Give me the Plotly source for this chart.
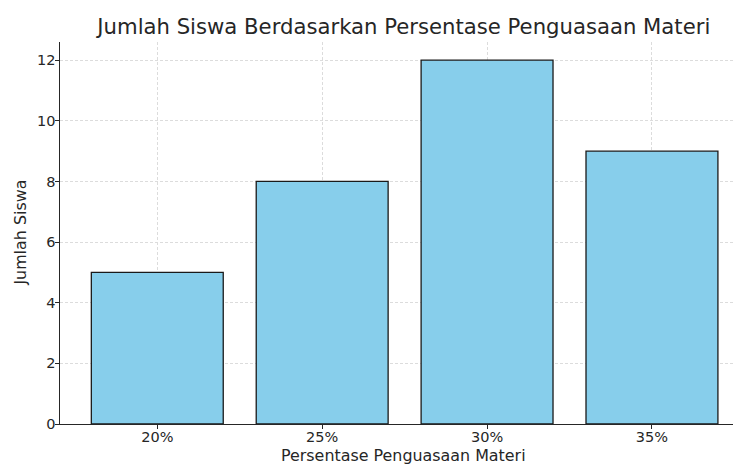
import plotly.graph_objects as go

categories = ["20%", "25%", "30%", "35%"]
jumlah_siswa = [5, 8, 12, 9]

title_text = "Jumlah Siswa Berdasarkan Persentase Penguasaan Materi"
x_label = "Persentase Penguasaan Materi"
y_label = "Jumlah Siswa"

positions = list(range(len(categories)))

fig = go.Figure()
fig.add_trace(go.Bar(
    x=positions,
    y=jumlah_siswa,
    width=0.8,
    marker=dict(color="#87CEEB", line=dict(color="#1a1a1a", width=1.3)),
))

font_family = "DejaVu Sans"
text_color = "#262626"
# the page body adds an 8px offset, so the figure is sized to fit inside it
fig.update_layout(
    width=733, height=457,
    margin=dict(l=52, r=0, t=34, b=41, autoexpand=False),
    paper_bgcolor="white", plot_bgcolor="white",
    showlegend=False,
    font=dict(family=font_family, color=text_color, size=14.5),
    title=dict(text=title_text,
               x=0.540, xanchor="center", yref="container", y=1 - 19 / 457, yanchor="middle",
               font=dict(size=21.2, color=text_color)),
)
grid_style = dict(showgrid=True, gridcolor="#dcdcdc", griddash="3px,2px", gridwidth=0.8)
fig.update_xaxes(
    range=[-0.59, 3.54],
    tickmode="array", tickvals=positions, ticktext=categories,
    showline=True, linecolor=text_color, linewidth=1.3,
    ticks="outside", ticklen=3.5, tickcolor=text_color,
    tickfont=dict(size=14.5), ticklabelstandoff=-4,
    zeroline=False, automargin=False,
    **grid_style,
)
fig.update_yaxes(
    range=[0, 12.6],
    tickvals=[0, 2, 4, 6, 8, 10, 12],
    showline=True, linecolor=text_color, linewidth=1.3,
    ticks="outside", ticklen=3.5, tickcolor=text_color,
    tickfont=dict(size=14.5), ticklabelstandoff=-3,
    zeroline=False, automargin=False,
    **grid_style,
)
fig.add_annotation(
    text=x_label, xref="paper", yref="paper", x=0.505, y=0,
    xanchor="center", yanchor="middle", yshift=-31, showarrow=False,
    font=dict(size=15.9, color=text_color),
)
fig.add_annotation(
    text=y_label, xref="paper", yref="paper", x=0, y=0.501,
    xanchor="center", yanchor="middle", xshift=-39, textangle=-90, showarrow=False,
    font=dict(size=15.9, color=text_color),
)

fig.write_html("out.html")
